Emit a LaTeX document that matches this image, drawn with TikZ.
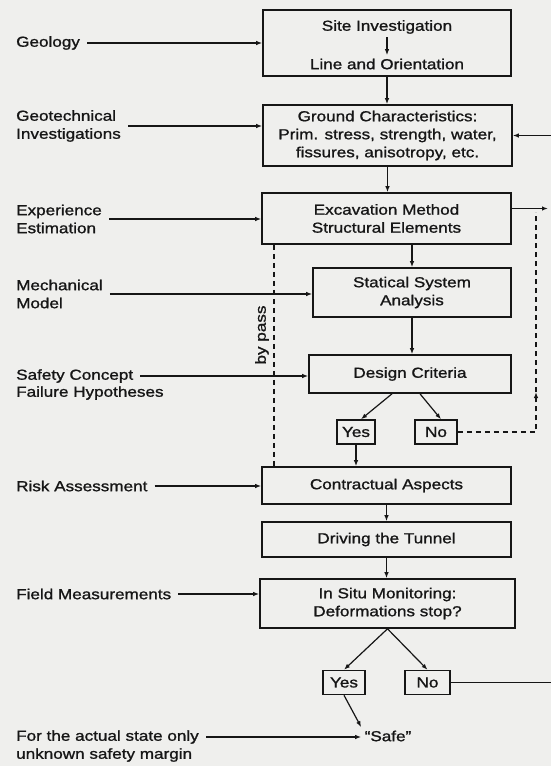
\documentclass[tikz,border=0pt]{standalone}
\usepackage{fontspec}
\setmainfont[FakeStretch=1.18,FakeBold=1.2]{Liberation Sans}
\usetikzlibrary{arrows.meta,positioning}
\definecolor{scanbg}{RGB}{239,239,237}
\definecolor{ink}{RGB}{22,22,22}

\begin{document}
\begin{tikzpicture}[x=1pt,y=-1pt,
every node/.style={font=\fontsize{14.5}{18}\selectfont,text=ink},
box/.style={draw=ink,line width=1.6pt,align=center},
tag/.style={draw=ink,line width=1.5pt,minimum height=24pt,inner sep=2pt},
lbl/.style={anchor=west,align=left,inner sep=0pt},
arr/.style={ink,line width=1.2pt,-{Latex[length=6pt,width=4.5pt]}},
feed/.style={arr,shorten <=7pt},
line/.style={ink,line width=1.2pt},
dsh/.style={ink,line width=1.1pt,dash pattern=on 5pt off 4pt}]
\path[use as bounding box,fill=scanbg] (0,0) rectangle (551,766);
% main column
\node[box,minimum width=248pt,minimum height=66pt] (site) at (387,43) {};
\node (siteA) at (387,27) {Site Investigation};
\node (siteB) at (387,64) {Line and Orientation};
\node[box,minimum width=249pt,minimum height=61pt] (ground) at (387.5,135.5) {Ground Characteristics:\\Prim. stress, strength, water,\\fissures, anisotropy, etc.};
\node[box,minimum width=249pt,minimum height=51pt] (exc) at (386.5,218.5) {Excavation Method\\Structural Elements};
\node[box,minimum width=198pt,minimum height=49pt] (stat) at (412,292.5) {Statical System\\Analysis};
\node[box,minimum width=202pt,minimum height=38pt] (design) at (410,374) {Design Criteria};
\node[tag,minimum width=38pt] (yes1) at (356,432) {Yes};
\node[tag,minimum width=42pt] (no1) at (436,432) {No};
\node[box,minimum width=249pt,minimum height=37pt] (contr) at (386.5,485.5) {Contractual Aspects};
\node[box,minimum width=249pt,minimum height=35pt] (drive) at (386.5,539.5) {Driving the Tunnel};
\node[box,minimum width=255pt,minimum height=49pt] (situ) at (387.5,603.5) {In Situ Monitoring:\\Deformations stop?};
\node[tag,minimum width=42pt] (yes2) at (344,682.5) {Yes};
\node[tag,minimum width=45pt] (no2) at (427.5,682.5) {No};
\node (safe) at (388,736) {``Safe''};
\node[rotate=90] (bypass) at (262,335) {by pass};
% inputs on the left
\node[lbl] (geology) at (16,43) {Geology};
\node[lbl] (geotech) at (16,126) {Geotechnical\\Investigations};
\node[lbl] (exper) at (16,219) {Experience\\Estimation};
\node[lbl] (mech) at (16,294) {Mechanical\\Model};
\node[lbl] (safety) at (16,376) {Safety Concept};
\node[lbl] (failure) at (16,393) {Failure Hypotheses};
\node[lbl] (risk) at (16,486) {Risk Assessment};
\node[lbl] (field) at (16,594) {Field Measurements};
\node[lbl] (actual) at (16,737) {For the actual state only};
\node[lbl] (margin) at (16,755) {unknown safety margin};
\coordinate (edge) at (551,0);
\coordinate (edgeA) at (548,0);
\coordinate (bp) at (274,0);
\coordinate (dTop) at (536,212);
\coordinate (dMid) at (536,392);
% flow
\draw[arr] (siteA) -- (siteB);
\draw[arr] (site.south) -- (site.south |- ground.north);
\draw[arr] (ground.south) -- (ground.south |- exc.north);
\draw[arr] (stat.north |- exc.south) -- (stat.north);
\draw[arr] (stat.south) -- (stat.south |- design.north);
\draw[arr] ([xshift=-18pt]design.south) -- ([xshift=5pt]yes1.north);
\draw[arr] ([xshift=10pt]design.south) -- ([xshift=5pt]no1.north);
\draw[arr] (yes1.south) -- (yes1.south |- contr.north);
\draw[arr] (contr.south) -- (contr.south |- drive.north);
\draw[arr] (drive.south) -- (drive.south |- situ.north);
\draw[arr] (situ.south) -- (yes2.north);
\draw[arr] (situ.south) -- (no2.north);
\draw[arr] (yes2.south) -- (safe.north west);
\foreach \src/\dst in {geology/site,geotech/ground,exper/exc,mech/stat,safety/design,risk/contr,field/situ,actual/safe}
  \draw[feed] (\src.east) -- (\src.east -| \dst.west);
% feedback
\draw[line] (no2.east) -- (no2.east -| edge);
\draw[arr] (ground.east -| edge) -- (ground.east);
\draw[arr] ([yshift=10pt]exc.east) -- ([yshift=10pt]exc.east -| edgeA);
\draw[dsh,arr] (no1.east) -| (dMid);
\draw[dsh] (dMid) -- (dTop);
\draw[dsh] (exc.south -| bp) -- (contr.north -| bp);
\end{tikzpicture}
\end{document}
